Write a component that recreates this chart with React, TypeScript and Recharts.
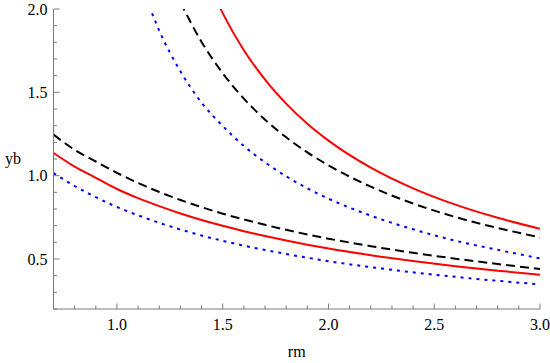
import { LineChart, Line, XAxis, YAxis } from 'recharts';

const rm = [0.7, 0.8, 0.9, 1.0, 1.1, 1.2, 1.3, 1.4, 1.5, 1.6, 1.7, 1.8, 1.9, 2.0, 2.2, 2.4, 2.6, 2.8, 3.0];

const lowerBlue = [1.016, 0.938, 0.871, 0.812, 0.762, 0.717, 0.677, 0.641, 0.609, 0.58, 0.554, 0.53, 0.508, 0.487, 0.451, 0.42, 0.393, 0.369, 0.348];
const lowerRed = [1.136, 1.054, 0.987, 0.92, 0.865, 0.817, 0.773, 0.734, 0.699, 0.667, 0.638, 0.611, 0.586, 0.563, 0.523, 0.488, 0.457, 0.43, 0.406];
const lowerBlack = [1.246, 1.155, 1.085, 1.017, 0.956, 0.902, 0.854, 0.811, 0.772, 0.737, 0.705, 0.675, 0.647, 0.622, 0.577, 0.537, 0.502, 0.47, 0.44];
const upperBlue = [null, null, null, null, 2.2, 1.87, 1.626, 1.438, 1.298, 1.178, 1.08, 0.996, 0.924, 0.862, 0.76, 0.678, 0.61, 0.555, 0.504];
const upperBlack = [null, null, null, null, null, null, 2.04, 1.802, 1.615, 1.462, 1.336, 1.23, 1.14, 1.062, 0.934, 0.833, 0.752, 0.686, 0.63];
const upperRed = [null, null, null, null, null, null, null, 2.26, 1.975, 1.753, 1.576, 1.432, 1.311, 1.21, 1.048, 0.924, 0.826, 0.747, 0.682];

const xTicks = [0.7, 0.8, 0.9, 1.0, 1.1, 1.2, 1.3, 1.4, 1.5, 1.6, 1.7, 1.8, 1.9, 2.0, 2.1, 2.2, 2.3, 2.4, 2.5, 2.6, 2.7, 2.8, 2.9, 3.0];
const xMajor = [1.0, 1.5, 2.0, 2.5, 3.0];
const yTicks = [0.2, 0.3, 0.4, 0.5, 0.6, 0.7, 0.8, 0.9, 1.0, 1.1, 1.2, 1.3, 1.4, 1.5, 1.6, 1.7, 1.8, 1.9, 2.0];
const yMajor = [0.5, 1.0, 1.5, 2.0];

const rows = rm.map((x, i) => ({
  rm: x,
  lowerBlue: lowerBlue[i],
  lowerRed: lowerRed[i],
  lowerBlack: lowerBlack[i],
  upperBlue: upperBlue[i],
  upperBlack: upperBlack[i],
  upperRed: upperRed[i],
}));

const FONT = '"Times New Roman", "Liberation Serif", serif';
const FRAME = '#7a7a7a';

const isMajor = (list: number[], v: number) => list.some((m) => Math.abs(m - v) < 1e-6);

function XTick(props: any) {
  const { x, y, payload, side } = props;
  const major = isMajor(xMajor, payload.value);
  const len = major ? 5.5 : 3.5;
  const dir = side === 'bottom' ? -1 : 1;
  const y0 = Number(y);
  return (
    <g>
      <path d={`M${x},${y0}V${y0 + dir * len}`} stroke={FRAME} strokeWidth={1} fill="none" />
      {side === 'bottom' && major && (
        <text x={x} y={y0 + 21} textAnchor="middle" fontFamily={FONT} fontSize={16} fill="#000">
          {payload.value.toFixed(1)}
        </text>
      )}
    </g>
  );
}

function YTick(props: any) {
  const { x, y, payload, side } = props;
  const major = isMajor(yMajor, payload.value);
  const len = major ? 6 : 3.5;
  const dir = side === 'left' ? 1 : -1;
  const x0 = Number(x);
  return (
    <g>
      <path d={`M${x0},${y}H${x0 + dir * len}`} stroke={FRAME} strokeWidth={1} fill="none" />
      {side === 'left' && major && (
        <text x={x0 - 6} y={y} dy="0.35em" textAnchor="end" fontFamily={FONT} fontSize={16} fill="#000">
          {payload.value.toFixed(1)}
        </text>
      )}
    </g>
  );
}

function AxisName({ viewBox, value, where }: any) {
  if (where === 'x') {
    return (
      <text x={viewBox.x + viewBox.width / 2} y={viewBox.y + viewBox.height - 6} textAnchor="middle" fontFamily={FONT} fontSize={16} fill="#000">
        {value}
      </text>
    );
  }
  return (
    <text x={viewBox.x + 5} y={viewBox.y + viewBox.height / 2 + 5} textAnchor="start" fontFamily={FONT} fontSize={16} fill="#000">
      {value}
    </text>
  );
}

export default function App() {
  return (
    <div style={{ position: 'absolute', left: 0, top: 0, background: '#fff' }}>
      <LineChart width={550} height={363} data={rows} margin={{ top: 9, right: 10, bottom: 0, left: 0 }}>
        <XAxis
          dataKey="rm"
          type="number"
          domain={[0.7, 3]}
          allowDataOverflow
          ticks={xTicks}
          interval={0}
          height={54}
          tickSize={0}
          tickMargin={0}
          tickLine={false}
          axisLine={{ stroke: FRAME }}
          tick={(p: any) => <XTick {...p} side="bottom" />}
          label={(p: any) => <AxisName {...p} value="rm" where="x" />}
        />
        <XAxis
          xAxisId="top"
          orientation="top"
          dataKey="rm"
          type="number"
          domain={[0.7, 3]}
          allowDataOverflow
          ticks={xTicks}
          interval={0}
          height={0}
          tickSize={0}
          tickMargin={0}
          tickLine={false}
          axisLine={{ stroke: FRAME }}
          tick={(p: any) => <XTick {...p} side="top" />}
        />
        <YAxis
          type="number"
          domain={[0.2, 2]}
          allowDataOverflow
          ticks={yTicks}
          interval={0}
          width={53.5}
          tickSize={0}
          tickMargin={0}
          tickLine={false}
          axisLine={{ stroke: FRAME }}
          tick={(p: any) => <YTick {...p} side="left" />}
          label={(p: any) => <AxisName {...p} value="yb" where="y" />}
        />
        <YAxis
          yAxisId="right"
          orientation="right"
          type="number"
          domain={[0.2, 2]}
          allowDataOverflow
          ticks={yTicks}
          interval={0}
          width={0}
          tickSize={0}
          tickMargin={0}
          tickLine={false}
          axisLine={{ stroke: FRAME }}
          tick={(p: any) => <YTick {...p} side="right" />}
        />
        <Line type="monotone" dataKey="lowerBlue" stroke="#0000ff" strokeWidth={2} strokeDasharray="3 5" dot={false} isAnimationActive={false} />
        <Line type="monotone" dataKey="lowerRed" stroke="#ff0000" strokeWidth={2} dot={false} isAnimationActive={false} />
        <Line type="monotone" dataKey="lowerBlack" stroke="#000000" strokeWidth={2} strokeDasharray="9 5" dot={false} isAnimationActive={false} />
        <Line type="monotone" dataKey="upperBlue" stroke="#0000ff" strokeWidth={2} strokeDasharray="3 5" dot={false} isAnimationActive={false} />
        <Line type="monotone" dataKey="upperBlack" stroke="#000000" strokeWidth={2} strokeDasharray="9 5" dot={false} isAnimationActive={false} />
        <Line type="monotone" dataKey="upperRed" stroke="#ff0000" strokeWidth={2} dot={false} isAnimationActive={false} />
      </LineChart>
    </div>
  );
}
